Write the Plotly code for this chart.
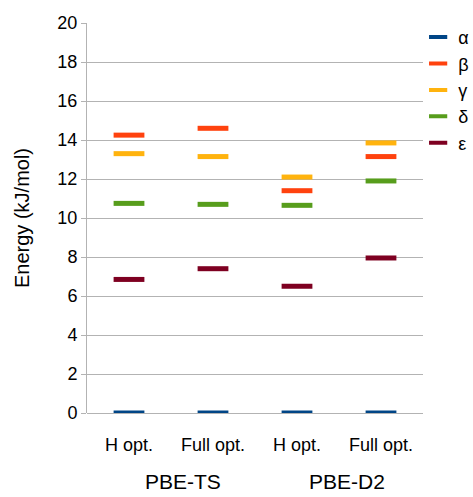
import plotly.graph_objects as go

categories = ["H opt.", "Full opt.", "H opt.", "Full opt."]
groups = ["PBE-TS", "PBE-D2"]
series_names = ["α", "β", "γ", "δ", "ε"]
alpha = [0, 0, 0, 0]
beta = [14.25, 14.6, 11.4, 13.15]
gamma = [13.3, 13.15, 12.1, 13.85]
delta = [10.75, 10.7, 10.65, 11.9]
epsilon = [6.85, 7.4, 6.5, 7.95]
colors = ["#004586", "#ff420e", "#ffb30e", "#579d1c", "#7e0021"]

values = [alpha, beta, gamma, delta, epsilon]
xpos = list(range(len(categories)))

fig = go.Figure()
for name, vals, col in zip(series_names, values, colors):
    fig.add_trace(go.Scatter(
        x=xpos, y=vals, name=name, mode="markers", showlegend=False,
        legendgroup=name,
        marker=dict(symbol="line-ew", size=22, color=col,
                    line=dict(width=5, color=col)),
    ))
for name, col in zip(series_names, colors):
    fig.add_trace(go.Scatter(
        x=[None], y=[None], name=name, mode="markers", legendgroup=name,
        marker=dict(symbol="line-ew", size=13, color=col,
                    line=dict(width=4, color=col)),
    ))

group_x = [0.64, 2.6]
for gx, g in zip(group_x, groups):
    fig.add_annotation(x=gx, y=0, xref="x", yref="paper", yanchor="middle",
                       yshift=-68, text=g, showarrow=False,
                       font=dict(size=21, color="#000"))

fig.update_layout(
    width=473, height=497,
    margin=dict(l=87, r=50, t=23, b=84, autoexpand=False),
    paper_bgcolor="white", plot_bgcolor="white",
    font=dict(family="Liberation Sans, Arial, sans-serif", color="#000"),
    xaxis=dict(range=[-0.5, 3.5], tickvals=xpos, ticktext=categories,
               showgrid=False, zeroline=False, showline=False,
               tickfont=dict(size=18), ticks="outside", ticklen=15,
               tickcolor="rgba(0,0,0,0)", automargin=False),
    yaxis=dict(range=[0, 20], dtick=2, showgrid=True, gridcolor="#b3b3b3",
               gridwidth=1, zeroline=True, zerolinecolor="#b3b3b3",
               zerolinewidth=1, showline=True, linecolor="#b3b3b3",
               ticks="outside", ticklen=5, tickcolor="#b3b3b3",
               tickfont=dict(size=18), automargin=False,
               title=dict(text="Energy (kJ/mol)", font=dict(size=20), standoff=22)),
    legend=dict(xref="container", yref="container", x=0.884, y=0.962,
                xanchor="left", yanchor="top",
                font=dict(size=18), bgcolor="rgba(0,0,0,0)",
                itemwidth=30, tracegroupgap=0),
    showlegend=True,
)

fig.write_html(
    "out.html",
    config={"displayModeBar": False},
    post_script="document.body.style.margin='0px';document.body.style.overflow='hidden';",
)
